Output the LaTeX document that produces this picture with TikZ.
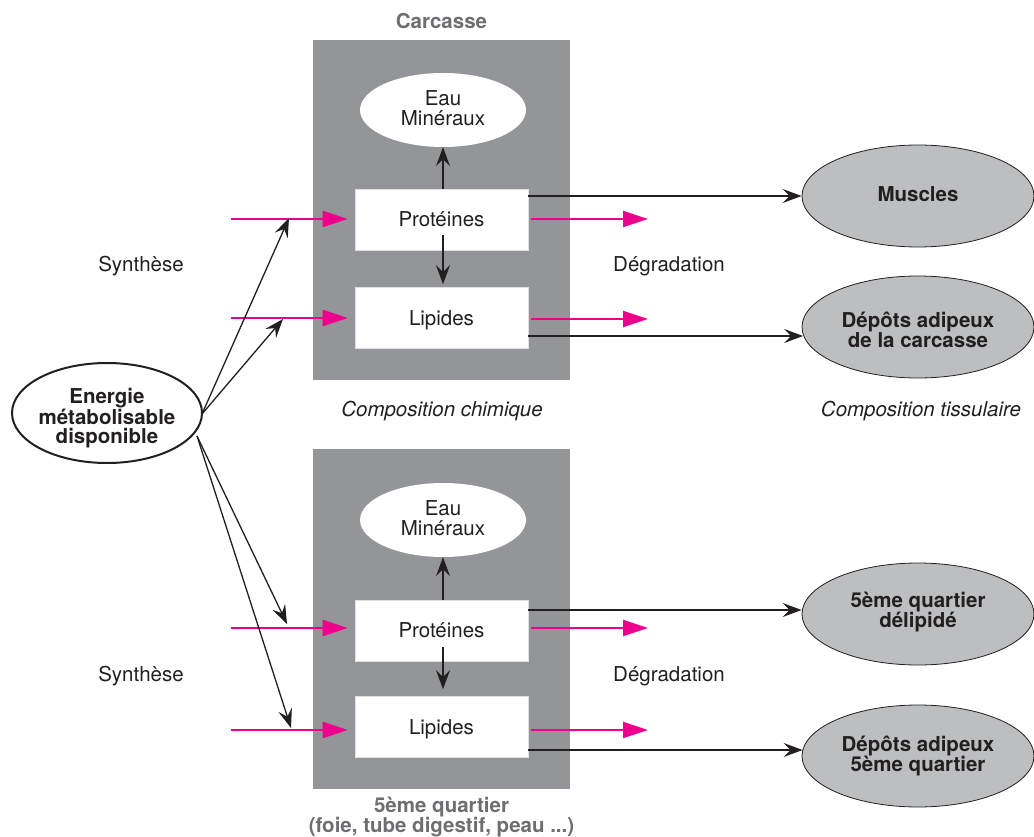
\documentclass[tikz,border=0pt]{standalone}
\usepackage{fontspec}
\setmainfont{TeX Gyre Heros}
\usetikzlibrary{arrows.meta,shapes.geometric,calc}
\definecolor{boxgrey}{HTML}{939598}
\definecolor{ellgrey}{HTML}{BCBEC0}
\definecolor{mag}{HTML}{EC008C}
\definecolor{titlegrey}{HTML}{6D6E71}
\definecolor{ink}{HTML}{231F20}
\tikzset{
  txt/.style={font=\fontsize{20.5}{20.5}\selectfont, text=ink, align=center},
  greybox/.style={fill=boxgrey, draw=none, minimum width=257pt, minimum height=340pt, inner sep=0pt},
  whitebox/.style={txt, fill=white, draw=black!12, line width=0.6pt, minimum width=173pt, minimum height=61pt, inner sep=0pt, text depth=0pt},
  eau/.style={txt, ellipse, fill=white, draw=none, minimum width=166pt, minimum height=74pt, inner sep=0pt},
  tissue/.style={ellipse, fill=ellgrey, draw=ink, line width=0.8pt, minimum width=232pt, minimum height=102pt, inner sep=0pt},
  tissuetext/.style={txt, font=\fontsize{20.5}{20}\selectfont\bfseries},
  energy/.style={ellipse, fill=white, draw=ink, line width=2pt, minimum width=190pt, minimum height=100pt, inner sep=0pt},
  energytext/.style={txt, font=\fontsize{20.5}{19}\selectfont\bfseries},
  blk/.style={draw=ink, line width=1.3pt, -{Stealth[length=19pt, width=14pt, inset=7pt]}},
  magarrow/.style={draw=mag, line width=2pt, -{Triangle[length=25pt, width=16pt]}},
  title/.style={font=\fontsize{20.5}{19}\selectfont\bfseries, text=titlegrey, align=center},
  note/.style={font=\fontsize{20.5}{20}\selectfont\itshape, text=ink}
}
\begin{document}
\begin{tikzpicture}[x=1pt, y=-1pt]
\useasboundingbox (0,0) rectangle (1034,837);

% grey boxes
\node[greybox] (C1) at (441.5,210) {};
\node[greybox] (C2) at (441.5,619) {};

% inner nodes top
\node[eau] (W1) at (443,110) {};
\node[txt] (W1t) at (443,108) {Eau\\Minéraux};
\node[whitebox] (P1) at (441.5,219.5) {Protéines};
\node[whitebox] (L1) at (441.5,318) {Lipides};
% inner nodes bottom
\node[eau] (W2) at (443,520) {};
\node[txt] (W2t) at (443,518) {Eau\\Minéraux};
\node[whitebox] (P2) at (441.5,630.5) {Protéines};
\node[whitebox] (L2) at (441.5,727) {Lipides};

% right ellipses
\node[tissue] (M1) at (918,196) {};
\node[tissuetext] (M1t) at (918,194) {Muscles};
\node[tissue] (D1) at (918,327) {};
\node[tissuetext] (D1t) at (918,330) {Dépôts adipeux\\de la carcasse};
\node[tissue] (M2) at (918,614) {};
\node[tissuetext] (M2t) at (918,612) {5ème quartier\\délipidé};
\node[tissue] (D2) at (918,756) {};
\node[tissuetext] (D2t) at (918,756) {Dépôts adipeux\\5ème quartier};

% energy
\node[energy] (E) at (107,413) {};
\node[energytext] (Et) at (107,418) {Energie\\métabolisable\\disponible};

% labels
\node[title] (tC) at (441.5,21) {Carcasse};
\node[title] (tQ) at (441.5,817) {5ème quartier\\(foie, tube digestif, peau ...)};
\node[txt] (s1) at (141,266) {Synthèse};
\node[txt] (s2) at (141,676) {Synthèse};
\node[txt] (d1) at (669,266) {Dégradation};
\node[txt] (d2) at (669,676) {Dégradation};
\node[note] (n1) at (442,411) {Composition chimique};
\node[note] (n2) at (921,411) {Composition tissulaire};

% coordinates
\coordinate (mi1) at (231,219);
\coordinate (mi2) at (231,318);
\coordinate (mi3) at (231,628);
\coordinate (mi4) at (231,730);
\coordinate (mo1) at (648,219);
\coordinate (mo2) at (648,319);
\coordinate (mo3) at (648,628);
\coordinate (mo4) at (648,730);
\coordinate (e1) at (202,414);
\coordinate (e2) at (197,436);
\coordinate (t1) at (289,218);
\coordinate (t2) at (283,319);
\coordinate (t3) at (287,624);
\coordinate (t4) at (291,728);
\coordinate (bo1) at (528,196);
\coordinate (bo2) at (528,336);
\coordinate (bo3) at (528,610);
\coordinate (bo4) at (528,750);
\coordinate (pl1) at (443,235);
\coordinate (pl2) at (443,647);

% magenta in
\draw[magarrow, shorten >=7pt] (mi1) -- (mi1 -| P1.west);
\draw[magarrow, shorten >=7pt] (mi2) -- (mi2 -| L1.west);
\draw[magarrow, shorten >=7pt] (mi3) -- (mi3 -| P2.west);
\draw[magarrow, shorten >=7pt] (mi4) -- (mi4 -| L2.west);
% magenta out
\draw[magarrow, shorten <=3pt] (mo1 -| P1.east) -- (mo1);
\draw[magarrow, shorten <=3pt] (mo2 -| L1.east) -- (mo2);
\draw[magarrow, shorten <=3pt] (mo3 -| P2.east) -- (mo3);
\draw[magarrow, shorten <=3pt] (mo4 -| L2.east) -- (mo4);

% black out to tissues
\draw[blk] (bo1) -- (bo1 -| M1.west);
\draw[blk] (bo2) -- ([xshift=1.5pt]bo2 -| D1.west);
\draw[blk] (bo3) -- (bo3 -| M2.west);
\draw[blk] (bo4) -- ([xshift=1pt]bo4 -| D2.west);

% inner arrows
\draw[blk] (P1.north -| W1.south) -- (W1.south);
\draw[blk] (pl1) -- ([yshift=3pt]pl1 |- L1.north);
\draw[blk] (P2.north -| W2.south) -- (W2.south);
\draw[blk] (pl2) -- ([yshift=7pt]pl2 |- L2.north);

% energy arrows
\draw[blk] (e1) -- (t1);
\draw[blk] (e1) -- (t2);
\draw[blk] (e2) -- (t3);
\draw[blk] (e2) -- (t4);
\end{tikzpicture}
\end{document}
